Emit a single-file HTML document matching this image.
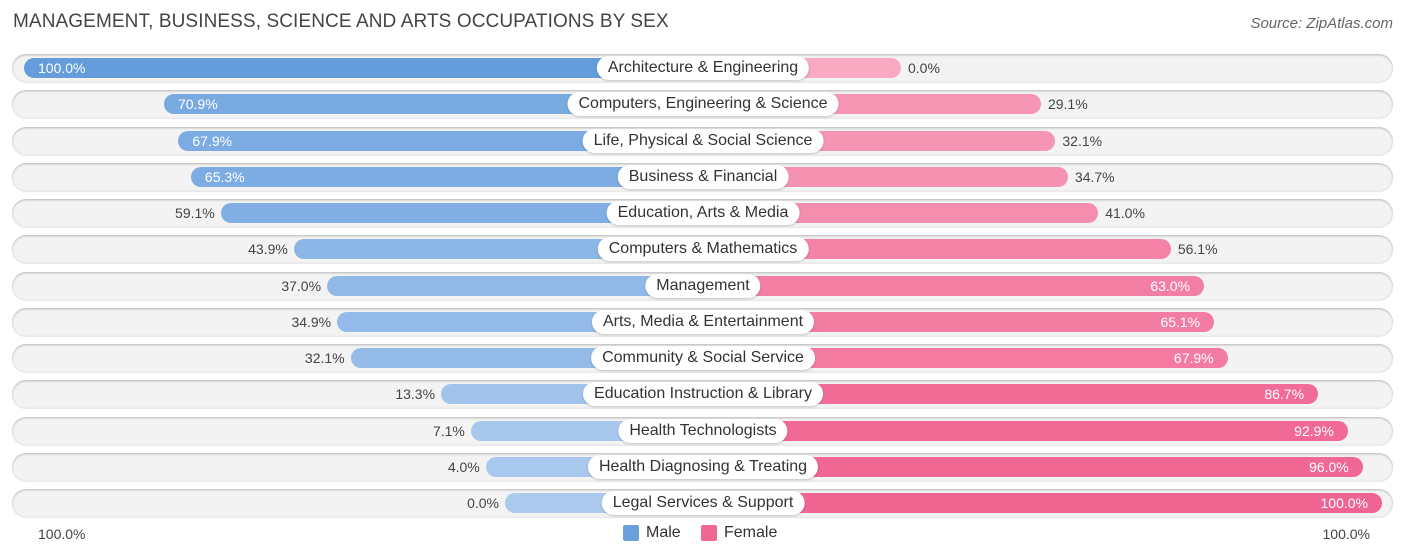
<!DOCTYPE html>
<html><head><meta charset="utf-8">
<style>
body{margin:0;background:#fff;font-family:"Liberation Sans",sans-serif;}
#wrap{position:relative;width:1406px;height:559px;overflow:hidden;}
.title{position:absolute;left:13px;top:11px;font-size:19px;color:#444;letter-spacing:0.1px;}
.src{position:absolute;right:13px;top:15px;font-size:15px;color:#666;font-style:italic;}
.row{position:absolute;left:12px;width:1381px;height:28px;border-radius:14px;background:#f3f3f3;box-shadow:0 1px 2px rgba(0,0,0,0.25) inset, 0 1px 1px rgba(0,0,0,0.1);}
.bar{position:absolute;height:20px;border-radius:10px;}
.lab{position:absolute;height:24px;line-height:24px;padding:0 11px;background:#fff;border-radius:12px;font-size:16px;color:#333;transform:translateX(-50%);white-space:nowrap;box-shadow:0 1px 2px rgba(0,0,0,0.2);}
.val{position:absolute;font-size:14px;line-height:20px;color:#444;}
.axis{position:absolute;top:526px;font-size:14px;color:#444;}
.leg{position:absolute;top:524px;font-size:16px;color:#333;display:flex;align-items:center;}
.sw{width:16px;height:16px;border-radius:2px;margin-right:7px;}
</style></head><body>
<div id="wrap">
<div class="title">MANAGEMENT, BUSINESS, SCIENCE AND ARTS OCCUPATIONS BY SEX</div>
<div class="src">Source: ZipAtlas.com</div>
<div id="rows"></div>
<div class="axis" style="left:38px">100.0%</div>
<div class="axis" style="right:36px">100.0%</div>
<div class="leg" style="left:623px"><div class="sw" style="background:#6a9fdc"></div>Male</div>
<div class="leg" style="left:701px"><div class="sw" style="background:#f06892"></div>Female</div>
</div>
<script>
const categories=["Architecture & Engineering","Computers, Engineering & Science","Life, Physical & Social Science","Business & Financial","Education, Arts & Media","Computers & Mathematics","Management","Arts, Media & Entertainment","Community & Social Service","Education Instruction & Library","Health Technologists","Health Diagnosing & Treating","Legal Services & Support"];
const male=[100.0,70.9,67.9,65.3,59.1,43.9,37.0,34.9,32.1,13.3,7.1,4.0,0.0];
const female=[0.0,29.1,32.1,34.7,41.0,56.1,63.0,65.1,67.9,86.7,92.9,96.0,100.0];
const cx=703, base=198, k=4.81, y0=68, dy=36.25;
function mix(a,b,t){return 'rgb('+a.map((v,i)=>Math.round(v+(b[i]-v)*t)).join(',')+')';}
const mLight=[172,202,238], mDark=[100,156,220], fLight=[248,170,195], fDark=[240,100,145];
const rows=document.getElementById('rows');
categories.forEach((c,i)=>{
  const yc=y0+i*dy;
  const r=document.createElement('div');r.className='row';r.style.top=(yc-14)+'px';
  
  
  rows.appendChild(r);
  const mw=base+k*male[i];
  const mb=document.createElement('div');mb.className='bar';
  mb.style.left=(cx-mw)+'px';mb.style.width=mw+'px';mb.style.top=(yc-10)+'px';
  mb.style.background=mix(mLight,mDark,male[i]/100);
  
  
  rows.appendChild(mb);
  const fw=base+k*female[i];
  const fb=document.createElement('div');fb.className='bar';
  fb.style.left=cx+'px';fb.style.width=fw+'px';fb.style.top=(yc-10)+'px';
  fb.style.background=mix(fLight,fDark,female[i]/100);
  
  
  rows.appendChild(fb);
  const mv=document.createElement('div');mv.className='val';mv.textContent=male[i].toFixed(1)+'%';
  mv.style.top=(yc-10)+'px';
  if(male[i]>=60){mv.style.left=(cx-mw+14)+'px';mv.style.color='#fff';}
  else{mv.style.right=(1406-(cx-mw)+6)+'px';}
  
  
  rows.appendChild(mv);
  const fv=document.createElement('div');fv.className='val';fv.textContent=female[i].toFixed(1)+'%';
  fv.style.top=(yc-10)+'px';
  if(female[i]>=60){fv.style.right=(1406-(cx+fw)+14)+'px';fv.style.color='#fff';}
  else{fv.style.left=(cx+fw+7)+'px';}
  
  
  rows.appendChild(fv);
  const l=document.createElement('div');l.className='lab';l.textContent=c;
  l.style.left=cx+'px';l.style.top=(yc-12)+'px';
  
  
  rows.appendChild(l);
});
</script>
</body></html>
